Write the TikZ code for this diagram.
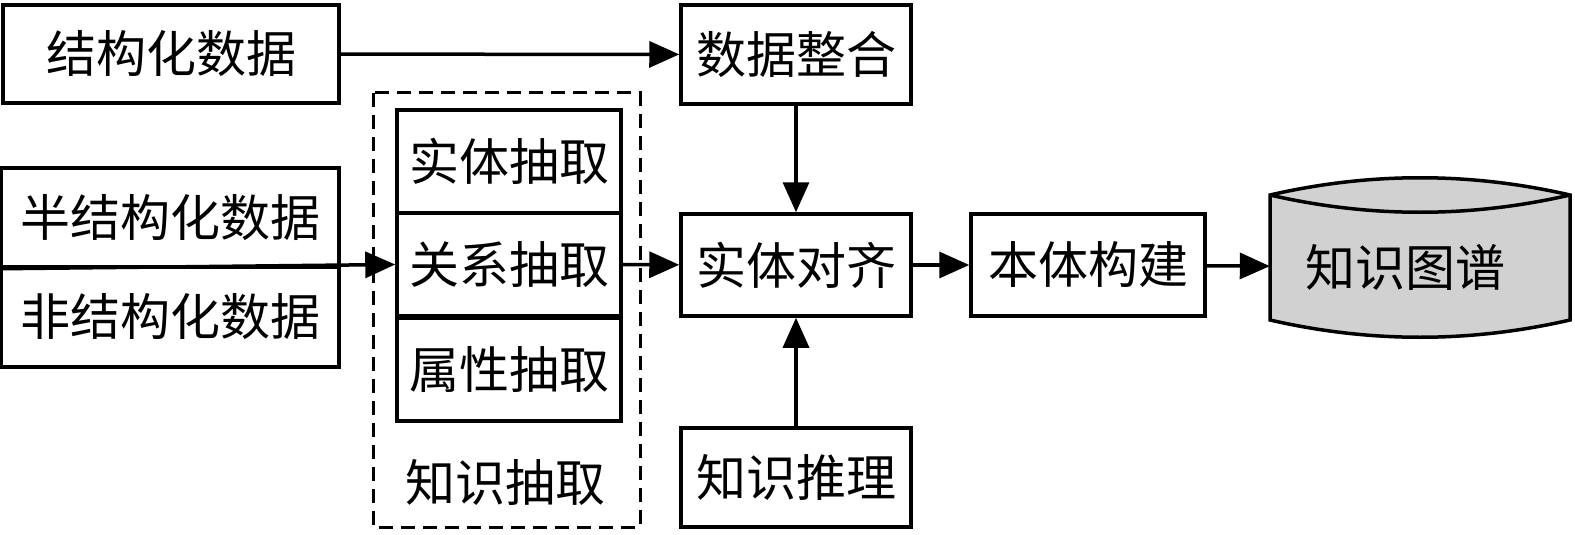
\documentclass[tikz,border=0pt]{standalone}
\usepackage{fontspec}
\setmainfont{Noto Sans CJK SC}
\usetikzlibrary{arrows.meta,positioning}

\begin{document}
\begin{tikzpicture}[
  x=1pt,y=-1pt,
  font=\fontsize{50}{60}\selectfont,
  box/.style={draw,line width=3.5pt,inner sep=0pt,align=center},
  link/.style={line width=3.5pt,-{Triangle[length=30pt,width=26pt]}}
]
  \useasboundingbox (0,0) rectangle (1575,535);

  % data sources
  \node[box,minimum width=336pt,minimum height=98pt] (sdata) at (171,54) {结构化数据};
  \node[box,minimum width=338pt,minimum height=99pt] (semi) at (170,217.5) {半结构化数据};
  \node[box,minimum width=338pt,minimum height=100pt] (unstr) at (170,317) {非结构化数据};

  % knowledge extraction group
  \draw[line width=3pt,dash pattern=on 14pt off 8pt] (373,93) rectangle (640,527);
  \node[box,minimum width=224pt,minimum height=103pt] (ent) at (509,161.5) {实体抽取};
  \node[box,minimum width=224pt,minimum height=103pt] (rel) at (509,264.5) {关系抽取};
  \node[box,minimum width=224pt,minimum height=103pt] (attr) at (509,369.5) {属性抽取};
  \node (extract) at (505,482) {知识抽取};

  % fusion
  \node[box,minimum width=230pt,minimum height=99pt] (integ) at (796,54.5) {数据整合};
  \node[box,minimum width=230pt,minimum height=102pt] (align) at (796,265) {实体对齐};
  \node[box,minimum width=230pt,minimum height=99pt] (reason) at (796,477.5) {知识推理};
  \node[box,minimum width=234pt,minimum height=102pt] (onto) at (1088,265) {本体构建};

  % knowledge graph store
  \draw[line width=3.5pt,fill=black!18]
    (1270,195) .. controls (1370,172) and (1470,172) .. (1570,195)
    -- (1570,320) .. controls (1470,343) and (1370,343) .. (1270,320) -- cycle;
  \draw[line width=3.5pt] (1270,195) .. controls (1370,218) and (1470,218) .. (1570,195);
  \node[inner sep=0pt,minimum width=270pt,minimum height=120pt] (kg) at (1405,267) {知识图谱};

  \draw[link] (sdata) -- (integ);
  \draw[link] (semi.south west) -- (rel.west);
  \draw[link] (rel) -- (align);
  \draw[link] (integ) -- (align);
  \draw[link] (reason) -- (align);
  \draw[link] (align) -- (onto);
  \draw[link] (onto) -- (kg);
\end{tikzpicture}
\end{document}
